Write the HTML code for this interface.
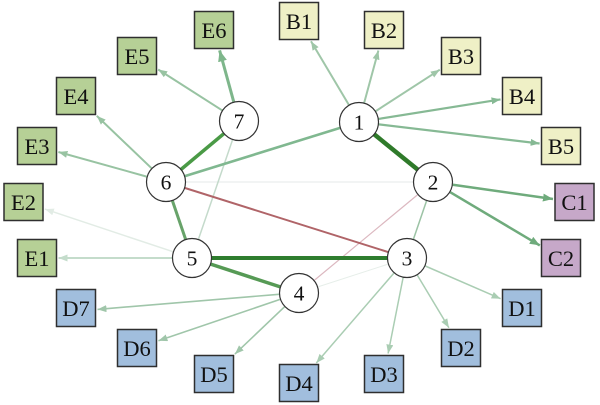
<!DOCTYPE html>
<html><head><meta charset="utf-8"><style>
html,body{margin:0;padding:0;background:#fff;}
svg{display:block;}
text{font-family:"Liberation Serif","DejaVu Serif",serif;fill:#111;}
</style></head><body>
<svg width="600" height="405" viewBox="0 0 600 405" xmlns="http://www.w3.org/2000/svg">
<defs>
<marker id="mA" markerUnits="userSpaceOnUse" markerWidth="10" markerHeight="8" refX="9" refY="3.5" orient="auto"><path d="M0,0 L9,3.5 L0,7 z" fill="#9fc6a8"/></marker>
<marker id="mB" markerUnits="userSpaceOnUse" markerWidth="10" markerHeight="8" refX="9" refY="3.5" orient="auto"><path d="M0,0 L9,3.5 L0,7 z" fill="#86b994"/></marker>
<marker id="mC" markerUnits="userSpaceOnUse" markerWidth="11" markerHeight="9" refX="10" refY="4" orient="auto"><path d="M0,0 L10,4 L0,8 z" fill="#6fab7c"/></marker>
<marker id="mD" markerUnits="userSpaceOnUse" markerWidth="10" markerHeight="8" refX="9" refY="3.5" orient="auto"><path d="M0,0 L9,3.5 L0,7 z" fill="#aacdb3"/></marker>
<marker id="mE" markerUnits="userSpaceOnUse" markerWidth="10" markerHeight="8" refX="9" refY="3.5" orient="auto"><path d="M0,0 L9,3.5 L0,7 z" fill="#a0c6aa"/></marker>
<marker id="mF" markerUnits="userSpaceOnUse" markerWidth="10" markerHeight="8" refX="9" refY="3.5" orient="auto"><path d="M0,0 L9,3.5 L0,7 z" fill="#c4dccb"/></marker>
<marker id="mG" markerUnits="userSpaceOnUse" markerWidth="10" markerHeight="8" refX="9" refY="3.5" orient="auto"><path d="M0,0 L9,3.5 L0,7 z" fill="#e2ece5"/></marker>
<marker id="mH" markerUnits="userSpaceOnUse" markerWidth="10" markerHeight="8" refX="9" refY="3.5" orient="auto"><path d="M0,0 L9,3.5 L0,7 z" fill="#98c3a2"/></marker>
<marker id="mI" markerUnits="userSpaceOnUse" markerWidth="12" markerHeight="10" refX="11" refY="4.5" orient="auto"><path d="M0,0 L11,4.5 L0,9 z" fill="#7eb68b"/></marker>
</defs>

<g fill="none" stroke-linecap="butt">
<line x1="166" y1="182" x2="433" y2="182" stroke="#e6eae8" stroke-width="1"/>
<line x1="299" y1="293" x2="407" y2="258" stroke="#e6eee9" stroke-width="1"/>
<line x1="239" y1="121" x2="192" y2="258" stroke="#c4dacb" stroke-width="1.5"/>
<line x1="299" y1="293" x2="433" y2="182" stroke="#dcb8c0" stroke-width="1.2"/>
<line x1="407" y1="258" x2="433" y2="182" stroke="#9cc3a5" stroke-width="1.5"/>
<line x1="166" y1="182" x2="359" y2="122" stroke="#80b890" stroke-width="2.6"/>
<line x1="166" y1="182" x2="407" y2="258" stroke="#b06468" stroke-width="2"/>
<line x1="166" y1="182" x2="192" y2="258" stroke="#68a36a" stroke-width="3"/>
<line x1="192" y1="258" x2="299" y2="293" stroke="#569a55" stroke-width="3.5"/>
<line x1="166" y1="182" x2="239" y2="121" stroke="#4a9a46" stroke-width="3.5"/>
<line x1="192" y1="258" x2="407" y2="258" stroke="#2e7d2e" stroke-width="4"/>
<line x1="359" y1="122" x2="433" y2="182" stroke="#2f7a2a" stroke-width="4.5"/>
</g>

<g fill="none">
<line x1="348.8" y1="104.8" x2="311" y2="41.2" stroke="#9fc6a8" stroke-width="2" marker-end="url(#mA)"/>
<line x1="364.2" y1="102.7" x2="378.4" y2="50.5" stroke="#9fc6a8" stroke-width="2" marker-end="url(#mA)"/>
<line x1="375.8" y1="111.1" x2="439.8" y2="69.7" stroke="#9fc6a8" stroke-width="2" marker-end="url(#mA)"/>
<line x1="378.7" y1="118.9" x2="500.5" y2="99.4" stroke="#86b994" stroke-width="2.2" marker-end="url(#mB)"/>
<line x1="378.9" y1="124.4" x2="539.6" y2="143.5" stroke="#86b994" stroke-width="2.2" marker-end="url(#mB)"/>

<line x1="452.8" y1="184.8" x2="553" y2="199" stroke="#6fab7c" stroke-width="2.5" marker-end="url(#mC)"/>
<line x1="450.2" y1="192.2" x2="539.8" y2="245.4" stroke="#6fab7c" stroke-width="2.5" marker-end="url(#mC)"/>

<line x1="425.3" y1="266" x2="500.6" y2="298.7" stroke="#aacdb3" stroke-width="1.5" marker-end="url(#mD)"/>
<line x1="417.3" y1="275.1" x2="448.9" y2="327.8" stroke="#aacdb3" stroke-width="1.5" marker-end="url(#mD)"/>
<line x1="403.1" y1="277.6" x2="388.1" y2="353.5" stroke="#aacdb3" stroke-width="1.5" marker-end="url(#mD)"/>
<line x1="393.9" y1="273.1" x2="316.3" y2="363" stroke="#aacdb3" stroke-width="1.5" marker-end="url(#mD)"/>

<line x1="284.5" y1="306.8" x2="234.9" y2="354.1" stroke="#a0c6aa" stroke-width="1.6" marker-end="url(#mE)"/>
<line x1="280.1" y1="299.4" x2="158.4" y2="340.7" stroke="#a0c6aa" stroke-width="1.6" marker-end="url(#mE)"/>
<line x1="279" y1="294.3" x2="97.5" y2="309.4" stroke="#a0c6aa" stroke-width="1.6" marker-end="url(#mE)"/>

<line x1="172" y1="258" x2="58.5" y2="258" stroke="#c4dccb" stroke-width="2" marker-end="url(#mF)"/>
<line x1="173" y1="251.7" x2="44.9" y2="209.1" stroke="#e2ece5" stroke-width="1.5" marker-end="url(#mG)"/>

<line x1="146.7" y1="176.6" x2="58.4" y2="152" stroke="#98c3a2" stroke-width="2" marker-end="url(#mH)"/>
<line x1="151.5" y1="168.2" x2="96.8" y2="115.9" stroke="#98c3a2" stroke-width="2" marker-end="url(#mH)"/>
<line x1="222.1" y1="110.3" x2="158.2" y2="69.5" stroke="#98c3a2" stroke-width="2" marker-end="url(#mH)"/>
<line x1="233.7" y1="101.7" x2="219.6" y2="50.4" stroke="#7eb68b" stroke-width="3" marker-end="url(#mI)"/>
</g>

<g stroke="#2f2f2f" stroke-width="1.5">
<rect x="279.5" y="2.5" width="39" height="37" fill="#eff0c6"/>
<rect x="364.5" y="11.5" width="39" height="37" fill="#eff0c6"/>
<rect x="441.5" y="37.5" width="39" height="37" fill="#eff0c6"/>
<rect x="502.5" y="77.5" width="39" height="37" fill="#eff0c6"/>
<rect x="541.5" y="127.5" width="39" height="37" fill="#eff0c6"/>
<rect x="555" y="183.5" width="39" height="37" fill="#c6a8c9"/>
<rect x="541.5" y="239.5" width="39" height="37" fill="#c6a8c9"/>
<rect x="502.5" y="289.5" width="39" height="37" fill="#a1bedd"/>
<rect x="441.5" y="329.5" width="39" height="37" fill="#a1bedd"/>
<rect x="364.5" y="355.5" width="39" height="37" fill="#a1bedd"/>
<rect x="279.5" y="364.5" width="39" height="37" fill="#a1bedd"/>
<rect x="194.5" y="355.5" width="39" height="37" fill="#a1bedd"/>
<rect x="117.5" y="329.5" width="39" height="37" fill="#a1bedd"/>
<rect x="56.5" y="289.5" width="39" height="37" fill="#a1bedd"/>
<rect x="17.5" y="239.5" width="39" height="37" fill="#b6d096"/>
<rect x="4" y="183.5" width="39" height="37" fill="#b6d096"/>
<rect x="17.5" y="127.5" width="39" height="37" fill="#b6d096"/>
<rect x="56.5" y="77.5" width="39" height="37" fill="#b6d096"/>
<rect x="117.5" y="37.5" width="39" height="37" fill="#b6d096"/>
<rect x="194.5" y="11.5" width="39" height="37" fill="#b6d096"/>
</g>
<g font-size="22.5" text-anchor="middle">
<text x="299" y="29">B1</text>
<text x="384" y="38">B2</text>
<text x="461" y="64">B3</text>
<text x="522" y="104">B4</text>
<text x="561" y="154">B5</text>
<text x="574.5" y="210">C1</text>
<text x="561" y="266">C2</text>
<text x="522" y="316">D1</text>
<text x="461" y="356">D2</text>
<text x="384" y="382">D3</text>
<text x="299" y="391">D4</text>
<text x="214" y="382">D5</text>
<text x="137" y="356">D6</text>
<text x="76" y="316">D7</text>
<text x="37" y="266">E1</text>
<text x="23.5" y="210">E2</text>
<text x="37" y="154">E3</text>
<text x="76" y="104">E4</text>
<text x="137" y="64">E5</text>
<text x="214" y="38">E6</text>
</g>

<g fill="#fff" stroke="#333" stroke-width="1.2">
<circle cx="359" cy="122" r="19.5"/>
<circle cx="433" cy="182" r="19.5"/>
<circle cx="407" cy="258" r="19.5"/>
<circle cx="299" cy="293" r="19.5"/>
<circle cx="192" cy="258" r="19.5"/>
<circle cx="166" cy="182" r="19.5"/>
<circle cx="239" cy="121" r="19.5"/>
</g>
<g font-size="21.5" text-anchor="middle">
<text x="359" y="129.5">1</text>
<text x="433" y="189.5">2</text>
<text x="407" y="265.5">3</text>
<text x="299" y="300.5">4</text>
<text x="192" y="265.5">5</text>
<text x="166" y="189.5">6</text>
<text x="239" y="128.5">7</text>
</g>
</svg>
</body></html>
